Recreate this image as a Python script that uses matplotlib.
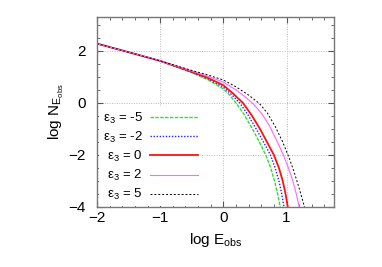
import matplotlib
matplotlib.use("Agg")
import matplotlib.pyplot as plt
from matplotlib.ticker import MultipleLocator

plt.rcParams["font.family"] = ["Liberation Sans", "DejaVu Sans"]
plt.rcParams["mathtext.fontset"] = "custom"
plt.rcParams["mathtext.rm"] = "Liberation Sans"
plt.rcParams["mathtext.it"] = "Liberation Sans:italic"

# values (log E_obs, log N)
eps_labels = ["-5", "-2", "0", "2", "5"]

logE_m5 = [-2, -1.5, -1, -0.5, -0.25, 0, 0.1, 0.2, 0.33, 0.46, 0.57, 0.67, 0.75, 0.81, 0.86, 0.90]
logN_m5 = [2.28, 1.95, 1.615, 1.16, 0.90, 0.54, 0.30, 0.0, -0.45, -1.0, -1.5, -2.0, -2.5, -3.0, -3.5, -4.0]

logE_m2 = [-2, -1.5, -1, -0.5, -0.25, 0, 0.13, 0.26, 0.39, 0.52, 0.64, 0.745, 0.82, 0.88, 0.925, 0.96]
logN_m2 = [2.28, 1.95, 1.615, 1.18, 0.93, 0.61, 0.32, 0.0, -0.46, -1.0, -1.52, -2.0, -2.5, -3.0, -3.5, -4.0]

logE_0 = [-2, -1.5, -1, -0.5, -0.25, 0, 0.15, 0.31, 0.45, 0.58, 0.69, 0.80, 0.88, 0.94, 0.985, 1.02]
logN_0 = [2.28, 1.95, 1.615, 1.20, 0.97, 0.68, 0.37, 0.0, -0.48, -1.0, -1.5, -2.0, -2.5, -3.0, -3.5, -4.0]

logE_p2 = [-2, -1.5, -1, -0.5, -0.25, 0, 0.2, 0.35, 0.48, 0.61, 0.73, 0.84, 0.95, 1.03, 1.10, 1.155, 1.20]
logN_p2 = [2.28, 1.95, 1.615, 1.23, 1.03, 0.80, 0.50, 0.22, -0.05, -0.42, -0.88, -1.42, -2.0, -2.5, -3.0, -3.5, -4.0]

logE_p5 = [-2, -1.5, -1, -0.5, -0.25, 0, 0.2, 0.4, 0.57, 0.70, 0.82, 0.93, 1.04, 1.12, 1.19, 1.25, 1.285]
logN_p5 = [2.28, 1.95, 1.615, 1.25, 1.08, 0.88, 0.62, 0.30, -0.02, -0.40, -0.9, -1.45, -2.1, -2.65, -3.2, -3.7, -4.0]

curves = [(logE_m5, logN_m5), (logE_m2, logN_m2), (logE_0, logN_0),
          (logE_p2, logN_p2), (logE_p5, logN_p5)]
colors = ["#33dd33", "#2222ff", "#ff1111", "#ff66ff", "#000000"]
styles = [(0, (2.5, 1)), (0, (1, 1.2)), "-", "-", (0, (2, 2))]
widths = [1.0, 1.0, 1.3, 0.8, 0.7]

fig = plt.figure(figsize=(3.82, 2.67), dpi=100)
ax = fig.add_axes([0.254, 0.225, 0.62, 0.711])

for (x, y), c, ls, lw, lab in zip(curves, colors, styles, widths, eps_labels):
    ax.plot(x, y, color=c, linestyle=ls, linewidth=lw,
            label="ε$_\\mathrm{3}$ = " + lab)

ax.set_xlim(-2, 1.75)
ax.set_ylim(-4, 3.3)
ax.xaxis.set_major_locator(MultipleLocator(1))
ax.xaxis.set_minor_locator(MultipleLocator(0.2))
ax.yaxis.set_major_locator(MultipleLocator(2))
ax.yaxis.set_minor_locator(MultipleLocator(0.5))
ax.tick_params(which="both", direction="in", top=True, right=True,
               labelsize=11, color="#555555")
ax.tick_params(which="major", length=4)
ax.tick_params(which="minor", length=2)
ax.tick_params(axis="x", which="major", pad=3)
ax.tick_params(axis="y", which="major", pad=8)
for s in ax.spines.values():
    s.set_color("#777777")
    s.set_linewidth(1.0)
ax.grid(which="major", color="#bbbbbb", linestyle=(0, (1, 1.5)), linewidth=0.7)
ax.set_axisbelow(True)

ax.set_xlabel("log E$_\\mathrm{obs}$", fontsize=11, labelpad=4)
ax.set_ylabel("log N$_{\\mathrm{E}_\\mathrm{obs}}$", fontsize=11, labelpad=2)

leg = ax.legend(loc="center right", bbox_to_anchor=(0.443, 0.265), markerfirst=False,
                fontsize=9.5, handlelength=3.6, handletextpad=0.6,
                labelspacing=0.3, borderpad=0.3, borderaxespad=0.0,
                frameon=True, fancybox=False, edgecolor="none", framealpha=1.0)

fig.savefig("out.png", dpi=100)
